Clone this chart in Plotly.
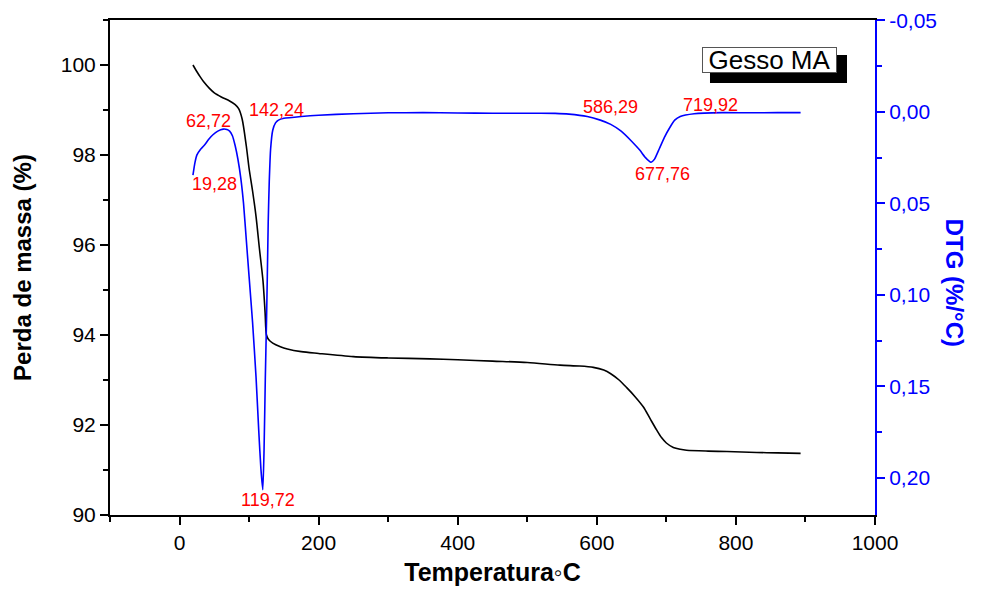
import plotly.graph_objects as go

# ---- data ----
tg_temp = [19.28, 25, 30, 35, 43, 50, 60, 72, 80, 85, 90, 96, 100, 105, 110, 115, 120, 123, 125,
           128, 134, 145, 155, 175, 200, 250, 300, 360, 400, 450, 500, 547, 575, 595, 610, 620,
           632, 643, 655, 667, 677, 686, 693, 700, 710, 720, 729, 760, 787, 830, 860, 893]
tg_mass = [100.0, 99.85, 99.73, 99.62, 99.48, 99.38, 99.29, 99.20, 99.12, 99.03, 98.80, 98.20,
           97.70, 97.20, 96.63, 95.90, 95.20, 94.50, 94.00, 93.90, 93.82, 93.74, 93.69, 93.63,
           93.59, 93.52, 93.49, 93.47, 93.45, 93.42, 93.39, 93.33, 93.31, 93.28, 93.22, 93.14,
           93.00, 92.83, 92.63, 92.40, 92.13, 91.89, 91.72, 91.60, 91.50, 91.46, 91.44, 91.42,
           91.41, 91.39, 91.38, 91.37]

dtg_temp = [19.28, 22, 25, 30, 35, 42, 48, 55, 62.72, 68, 72, 76, 80, 84, 88, 92, 96, 100, 105,
            110, 114, 117, 119.72, 121.5, 123.3, 125, 126.2, 127.5, 129, 131, 134, 138, 142.24,
            150, 175, 200, 250, 300, 350, 400, 450, 500, 540, 560, 586.29, 605, 620, 635, 650,
            662, 670, 677.76, 683, 690, 697, 705, 712, 719.92, 740, 780, 820, 860, 893]
dtg_val = [0.0346, 0.0280, 0.0235, 0.0205, 0.0185, 0.0150, 0.0125, 0.0105, 0.0094, 0.0096,
           0.0105, 0.0130, 0.0185, 0.0260, 0.0360, 0.0500, 0.0700, 0.0900, 0.1150, 0.1450,
           0.1750, 0.1950, 0.2064, 0.1850, 0.1460, 0.1150, 0.0900, 0.0600, 0.0380, 0.0200,
           0.0100, 0.0060, 0.0045, 0.0035, 0.0025, 0.0018, 0.0010, 0.0005, 0.0004, 0.0006,
           0.0007, 0.0007, 0.0008, 0.0012, 0.0025, 0.0045, 0.0068, 0.0105, 0.0160, 0.0210,
           0.0250, 0.0275, 0.0258, 0.0200, 0.0140, 0.0085, 0.0045, 0.0025, 0.0010, 0.0004,
           0.0005, 0.0004, 0.0004]

peak_labels = ["19,28", "62,72", "142,24", "119,72", "586,29", "719,92", "677,76"]
peak_label_x = [50.4, 41, 140, 127, 620, 763, 695]
peak_label_y = [0.0393, 0.0051, -0.0009, 0.2120, -0.0025, -0.0035, 0.0340]

x_ticks = [0, 200, 400, 600, 800, 1000]
y_ticks = [90, 92, 94, 96, 98, 100]
y2_ticks = [-0.05, 0.0, 0.05, 0.10, 0.15, 0.20]
y2_ticktext = ["-0,05", "0,00", "0,05", "0,10", "0,15", "0,20"]

FONT = "Liberation Sans, Arial, sans-serif"
BLUE = "#0000FF"

fig = go.Figure()
fig.add_trace(go.Scatter(x=tg_temp, y=tg_mass, mode="lines",
                         line=dict(color="black", width=1.6, shape="spline", smoothing=0.8),
                         yaxis="y", showlegend=False))
fig.add_trace(go.Scatter(x=dtg_temp, y=dtg_val, mode="lines",
                         line=dict(color=BLUE, width=1.6, shape="spline", smoothing=0.5),
                         yaxis="y2", showlegend=False))

for t, xx, yy in zip(peak_labels, peak_label_x, peak_label_y):
    fig.add_annotation(x=xx, y=yy, xref="x", yref="y2", text=t, showarrow=False,
                       font=dict(family=FONT, size=18, color="#FF0000"))

# "Gesso MA" label box with shadow
fig.add_shape(type="rect", xref="paper", yref="paper", x0=0.7843, x1=0.9634, y0=0.8727, y1=0.9293,
              fillcolor="black", line=dict(width=0), layer="below")
fig.add_annotation(x=0.8627, y=0.9182, xref="paper", yref="paper", text="Gesso MA",
                   showarrow=False, font=dict(family=FONT, size=26, color="black"),
                   bgcolor="white", bordercolor="#555555", borderwidth=1, borderpad=0,
                   width=133, height=24, xanchor="center", yanchor="middle")

# right-axis title, reading top to bottom
fig.add_annotation(x=1.1243, y=0.470, xref="paper", yref="paper", text="<b>DTG (%/°C)</b>",
                   textangle=90, showarrow=False,
                   font=dict(family=FONT, size=24, color=BLUE))

fig.update_layout(
    width=976, height=584,
    margin=dict(l=102, r=109, t=12, b=77),
    paper_bgcolor="white", plot_bgcolor="white",
    font=dict(family=FONT, size=20, color="black"),
    showlegend=False,
    xaxis=dict(range=[-100, 1000], tickvals=x_ticks, ticks="outside", ticklen=8, tickwidth=2,
               tickcolor="black", showline=True, linecolor="black", linewidth=2, mirror=True,
               showgrid=False, zeroline=False, tickfont=dict(size=21), automargin=False,
               minor=dict(dtick=100, tick0=0, ticks="outside", ticklen=5, tickwidth=1.5,
                          tickcolor="black", showgrid=False),
               title=dict(text="<b>Temperatura◦C</b>", font=dict(size=25), standoff=10)),
    yaxis=dict(range=[90, 101], tickvals=y_ticks, ticks="outside", ticklen=8, tickwidth=2,
               tickcolor="black", showline=True, linecolor="black", linewidth=2,
               showgrid=False, zeroline=False, tickfont=dict(size=21), automargin=False,
               minor=dict(dtick=1, tick0=90, ticks="outside", ticklen=5, tickwidth=1.5,
                          tickcolor="black", showgrid=False),
               title=dict(text="<b>Perda de massa (%)</b>", font=dict(size=24), standoff=22)),
    yaxis2=dict(overlaying="y", side="right", range=[0.2202, -0.0502], automargin=False,
                tickvals=y2_ticks, ticktext=y2_ticktext, ticks="outside", ticklen=8, tickwidth=2,
                tickcolor=BLUE, showline=True, linecolor=BLUE, linewidth=2,
                showgrid=False, zeroline=False, tickfont=dict(size=21, color=BLUE),
                minor=dict(dtick=0.025, tick0=0, ticks="outside", ticklen=5, tickwidth=1.5,
                           tickcolor=BLUE, showgrid=False)),
)

fig.write_html("out.html")
